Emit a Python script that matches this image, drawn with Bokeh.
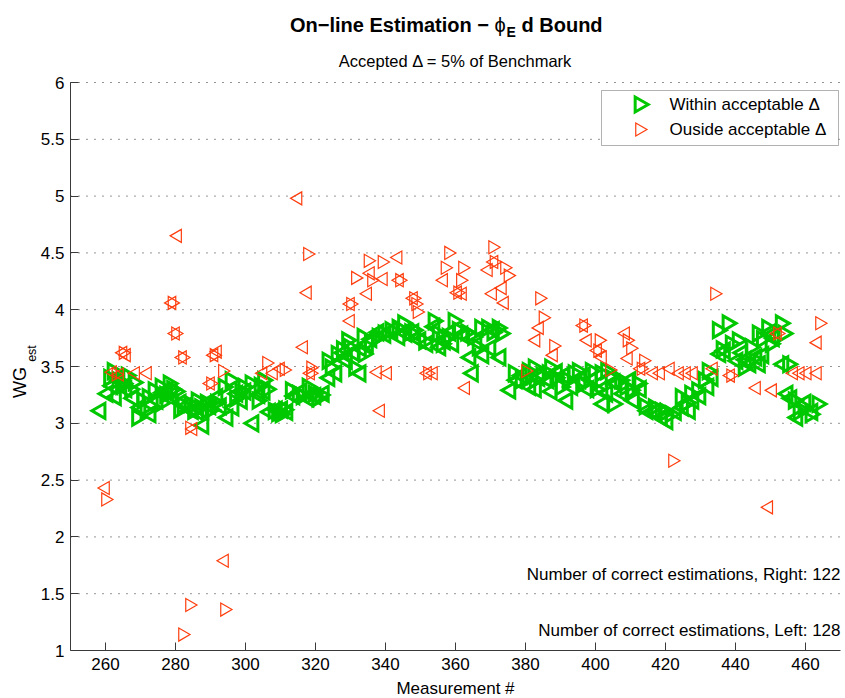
import math
from bokeh.plotting import figure
from bokeh.models import Range1d, FixedTicker, Label, BoxAnnotation, NumeralTickFormatter
from bokeh.core.properties import value
from bokeh.embed import file_html
from bokeh.resources import INLINE

# ---------------- data ----------------
x_ticks = [260, 280, 300, 320, 340, 360, 380, 400, 420, 440, 460]
y_ticks = [1, 1.5, 2, 2.5, 3, 3.5, 4, 4.5, 5, 5.5, 6]

# green, right-pointing (within acceptable delta, right)
green_right_x = [261, 262, 263.4, 264.5, 265, 266, 267, 268, 269, 270.5, 271.4, 272, 273.7, 275.7, 276, 277, 278,
                 279, 280, 281, 282, 284, 285, 286, 287, 288.6, 290, 291.5, 293.7, 295.7, 297, 298.5, 299.4,
                 301.4, 303.4, 304, 305, 306, 308, 309, 310, 311, 312.9, 314.9, 316, 317.7, 319.4, 320.5,
                 321.4, 323.4, 324.3, 326, 327.5, 329, 329.6, 331, 333.4, 333.7, 335.5, 337.7, 339.4, 341.4,
                 343.4, 345, 347, 348, 351, 353.7, 354.9, 356, 357.7, 359.4, 360.6, 363, 365, 366.3, 367,
                 369, 370.5, 372, 372.9, 376.6, 378.6, 380.6, 382.3, 382.6, 384.5, 386.3, 387, 388.5, 390,
                 392, 393.7, 394.9, 396.5, 398.6, 400, 401.4, 403, 404.3, 405, 407, 408.5, 410, 412, 414,
                 416.6, 418.6, 420, 421.4, 424.3, 426, 427, 429, 430.9, 432, 434.9, 436, 437.7, 438.6,
                 440.6, 442.3, 444.3, 446.3, 447.5, 449, 450, 452.9, 453.7, 455, 456.6, 458, 459.4, 461.4, 463.4]
green_right_y = [3.40, 3.46, 3.38, 3.33, 3.35, 3.42, 3.30, 3.36, 3.05, 3.20, 3.11, 3.23, 3.29, 3.32, 3.18, 3.25, 3.35,
                 3.30, 3.28, 3.12, 3.16, 3.17, 3.11, 3.20, 3.14, 3.18, 3.12, 3.18, 3.32, 3.38, 3.22, 3.28, 3.32,
                 3.35, 3.20, 3.33, 3.38, 3.30, 3.11, 3.09, 3.08, 3.12, 3.29, 3.26, 3.24, 3.32, 3.26, 3.22,
                 3.25, 3.55, 3.49, 3.61, 3.65, 3.73, 3.67, 3.49, 3.76, 3.61, 3.72, 3.76, 3.79, 3.82,
                 3.84, 3.88, 3.80, 3.82, 3.72, 3.90, 3.79, 3.70, 3.76, 3.90, 3.82, 3.80, 3.76, 3.67, 3.84,
                 3.84, 3.80, 3.84, 3.79, 3.44, 3.38, 3.46, 3.49, 3.38, 3.42, 3.44, 3.49, 3.40, 3.32,
                 3.38, 3.44, 3.46, 3.35, 3.46, 3.30, 3.44, 3.46, 3.40, 3.17, 3.38, 3.32, 3.29, 3.35, 3.15,
                 3.14, 3.11, 3.10, 3.08, 3.23, 3.18, 3.26, 3.29, 3.38, 3.46, 3.82, 3.65, 3.88, 3.70,
                 3.73, 3.49, 3.67, 3.79, 3.74, 3.84, 3.70, 3.88, 3.79, 3.52, 3.20, 3.10, 3.14, 3.08, 3.17]

# green, left-pointing (within acceptable delta, left)
green_left_x = [258.6, 260.6, 262, 263, 264, 266, 268, 270, 272.9, 274.9, 276.5, 277.7, 279, 281.5,
                283, 285, 286.5, 288, 288, 290, 292, 293, 294.9, 296.6, 297.7, 299, 300, 302.3, 304, 305.5,
                307, 309, 310.5, 312, 314, 316, 318, 320, 322.4, 324,
                326, 328, 329, 331, 332.9, 333, 335, 336, 338, 340, 342, 344, 346, 348, 350, 352, 354,
                355.7, 357, 358.5, 359.4, 362, 364.3, 365, 366, 368, 370, 371, 372.9,
                375.7, 377.5, 379, 381.4, 383, 384, 386.6, 387.5, 389, 391, 392, 393.4, 395.7, 397, 398,
                399, 402, 403.4, 402.3, 405.5, 408, 410, 411, 413,
                414.9, 417, 419, 420.6, 423, 425, 427, 428, 430, 432.3, 433.5, 435.7, 437, 440.6, 442, 443,
                444.3, 446, 447, 448, 450, 451, 453.7, 454.9, 456, 457.7, 460, 462]
green_left_y = [3.11, 3.26, 3.33, 3.23, 3.38, 3.30, 3.22, 3.14, 3.08, 3.20, 3.27, 3.29, 3.25, 3.18,
                3.15, 3.11, 3.10, 3.11, 2.98, 3.15, 3.23, 3.15, 3.05, 3.14, 3.26, 3.20, 3.28, 3.00, 3.25, 3.28,
                3.10, 3.12, 3.12, 3.10, 3.24, 3.28, 3.22, 3.24, 3.26, 3.40,
                3.44, 3.62, 3.55, 3.62, 3.44, 3.66, 3.70, 3.74, 3.80, 3.78, 3.82, 3.76, 3.79, 3.80, 3.73, 3.70, 3.85,
                3.67, 3.72, 3.80, 3.70, 3.78, 3.58, 3.44, 3.72, 3.60, 3.66, 3.82, 3.58,
                3.29, 3.38, 3.42, 3.32, 3.30, 3.40, 3.38, 3.28, 3.45, 3.42, 3.20, 3.32, 3.38, 3.42, 3.30,
                3.38, 3.30, 3.26, 3.17, 3.36, 3.26, 3.38, 3.20, 3.30,
                3.11, 3.10, 3.05, 3.02, 3.10, 3.14, 3.11, 3.20, 3.24, 3.32, 3.40, 3.61, 3.64, 3.55, 3.62, 3.56,
                3.52, 3.58, 3.52, 3.60, 3.80, 3.75, 3.52, 3.26, 3.22, 3.05, 3.18, 3.10]

# red, right-pointing (outside acceptable delta, right)
red_right_x = [260, 263, 265, 279, 280, 282, 284, 284, 282, 290, 291, 293.4, 294, 306, 311, 317.7, 318.6, 318.6,
               330, 331.4, 335, 336, 339, 344, 348, 348.6, 349, 358, 357, 362, 361.4, 360.6, 370.6, 371,
               374, 375, 384, 385, 388, 352,
               396.6, 401, 400.6, 409, 410, 413.7, 413, 438.6, 434, 452, 464, 422, 380, 404]
red_right_y = [2.33, 3.43, 3.62, 4.06, 3.79, 3.58, 2.96, 1.40, 1.14, 3.35, 3.60, 3.46, 1.36, 3.53, 3.47, 4.49, 3.49, 3.44,
               4.05, 4.28, 4.43, 4.26, 4.42, 4.26, 4.10, 4.05, 3.98, 4.50, 4.37, 4.37, 4.26, 4.15, 4.55, 4.42,
               4.37, 4.30, 4.10, 3.93, 3.68, 3.44,
               3.86, 3.73, 3.64, 3.73, 3.66, 3.55, 3.48, 3.42, 4.14, 3.79, 3.88, 2.67, 3.46, 3.47]

# red, left-pointing (outside acceptable delta, left)
red_left_x = [260, 262, 264, 265, 266, 268.6, 272, 279, 280, 280.6, 282, 285, 290, 291, 292, 294, 305, 308, 310,
              315, 316.6, 317.7, 318.6,
              330, 330, 334.9, 335.7, 337.7, 338.6, 339.4, 340.6, 343.6, 344, 348, 352, 353.7, 356.6, 360.6,
              362, 362.9, 369.4, 371, 373.4, 370.6, 374, 383, 384, 388,
              396.6, 397.7, 400.6, 402, 408.6, 409.4, 413, 416.6, 418.6, 421.4, 424, 426, 428, 433.7, 438.6,
              446, 450.6, 449.5, 452, 456.6, 458.5, 460.5, 463.4, 463.4]
red_left_y = [2.43, 3.45, 3.43, 3.62, 3.60, 3.44, 3.44, 4.06, 3.79, 4.65, 3.58, 2.95, 3.35, 3.60, 3.63, 1.79, 3.44, 3.44, 3.48,
              4.98, 3.67, 4.15, 3.44,
              4.05, 3.90, 4.14, 4.32, 3.45, 3.11, 4.27, 3.44, 4.46, 4.26, 4.10, 3.44, 3.44, 4.26, 4.15,
              4.14, 3.31, 4.35, 4.42, 4.19, 4.14, 4.06, 3.73, 3.84, 3.60,
              3.86, 3.73, 3.64, 3.58, 3.79, 3.57, 3.48, 3.44, 3.44, 3.48, 3.44, 3.44, 3.44, 3.48, 3.42,
              3.31, 3.29, 2.26, 3.79, 3.44, 3.44, 3.44, 3.44, 3.71]

count_right = 122
count_left = 128

# ---------------- layout / style ----------------
FONT = "Liberation Sans"
GREEN = "#00c800"
RED = "#ff3d0d"
AXIS_COLOR = "#3a3a3a"
W, H = 845, 698
X0, X1 = 250, 470          # axis extent (data)
Y0, Y1 = 1, 6
FL, FR, FT, FB = 70, 840, 82, 650   # axes box in page pixels
KX = (FR - FL) / (X1 - X0)
KY = (FB - FT) / (Y1 - Y0)
# the frame covers the whole canvas so that texts outside the axes are not clipped
XR0 = X0 - FL / KX
XR1 = XR0 + W / KX
YR1 = Y1 + FT / KY
YR0 = YR1 - H / KY


def dx(px):
    return XR0 + px / KX


def dy(py):
    return YR1 - py / KY


p = figure(width=W, height=H, output_backend="svg", toolbar_location=None,
           x_range=Range1d(XR0, XR1), y_range=Range1d(YR0, YR1),
           min_border_left=0, min_border_right=0, min_border_top=0, min_border_bottom=0)
p.title.visible = False
p.outline_line_color = None
p.background_fill_color = "white"
p.border_fill_color = "white"
p.xgrid.visible = False
p.ygrid.visible = False

for ax in (p.xaxis[0], p.yaxis[0]):
    ax.axis_line_color = AXIS_COLOR
    ax.major_tick_line_color = AXIS_COLOR
    ax.major_tick_in = 8
    ax.major_tick_out = 0
    ax.minor_tick_line_color = None
    ax.major_label_text_font = FONT
    ax.major_label_text_font_size = "17px"
    ax.major_label_text_color = "black"

p.xaxis.ticker = FixedTicker(ticks=x_ticks)
p.yaxis.ticker = FixedTicker(ticks=y_ticks)
p.xaxis.fixed_location = Y0
p.yaxis.fixed_location = X0
p.xaxis.bounds = (X0, X1)
p.yaxis.bounds = (Y0, Y1)
p.yaxis.formatter = NumeralTickFormatter(format="0.[0]")
p.xaxis.major_label_standoff = 7
p.yaxis.major_label_standoff = 6

# dotted horizontal grid, only across the axes box
n_grid = len(y_ticks) - 1
p.segment(x0=[X0] * n_grid, x1=[X1] * n_grid, y0=y_ticks[1:], y1=y_ticks[1:],
          line_color="#2a2a2a", line_width=1, line_dash="1 7")

mk = dict(marker="triangle", fill_color=None, line_join="miter")
p.scatter(green_right_x, green_right_y, size=15, angle=-math.pi / 2,
          line_color=GREEN, line_width=3, **mk)
p.scatter(green_left_x, green_left_y, size=15, angle=math.pi / 2,
          line_color=GREEN, line_width=3, **mk)
p.scatter(red_right_x, red_right_y, size=13, angle=-math.pi / 2,
          line_color=RED, line_width=1.2, **mk)
p.scatter(red_left_x, red_left_y, size=13, angle=math.pi / 2,
          line_color=RED, line_width=1.2, **mk)


def label(text, px, py, size="17px", style="normal", align="left", baseline="middle"):
    p.add_layout(Label(x=dx(px), y=dy(py), text=text, text_font=FONT, text_font_size=size,
                       text_font_style=style, text_align=align, text_baseline=baseline,
                       text_color="black"))


def vlabel(text, px, py, size):
    # rotated (bottom-to-top) text
    p.text(x=[dx(px)], y=[dy(py)], text=[text], angle=math.pi / 2,
           text_font=value(FONT), text_font_size=size, text_align="center",
           text_baseline="middle", text_color="black")


# legend (drawn by hand so that the markers keep their direction)
p.add_layout(BoxAnnotation(left=dx(601), right=dx(838), top=dy(90), bottom=dy(145),
                           fill_color="white", fill_alpha=1.0, line_color="black", line_width=1))
lg = p.scatter([dx(639)], [dy(104)], size=15, angle=-math.pi / 2, line_color=GREEN, line_width=3, **mk)
lr = p.scatter([dx(639)], [dy(129)], size=13, angle=-math.pi / 2, line_color=RED, line_width=1.2, **mk)
lg.level = "overlay"
lr.level = "overlay"
label("Within acceptable \u0394", 669, 104)
label("Ouside acceptable \u0394", 669, 129)

# counts
label(f"Number of correct estimations, Right: {count_right}", 840, 574, align="right")
label(f"Number of correct estimations, Left: {count_left}", 840, 630, align="right")

# titles
label("On\u2212line Estimation \u2212 ", 494, 24, size="20px", style="bold", align="right", baseline="alphabetic")
label("\u03d5", 494, 24, size="20px", align="left", baseline="alphabetic")
label("E", 506, 31, size="14px", style="bold", align="left", baseline="alphabetic")
label("d Bound", 521, 24, size="20px", style="bold", align="left", baseline="alphabetic")
label("Accepted \u0394 = 5% of Benchmark", 455, 60, size="16.5px", align="center")

# axis labels
label("Measurement #", 455, 688, size="17px", align="center")
vlabel("WG", 19, 382, "18px")
vlabel("est", 31, 353, "12.5px")

open("out.html", "w").write(file_html(p, INLINE))
